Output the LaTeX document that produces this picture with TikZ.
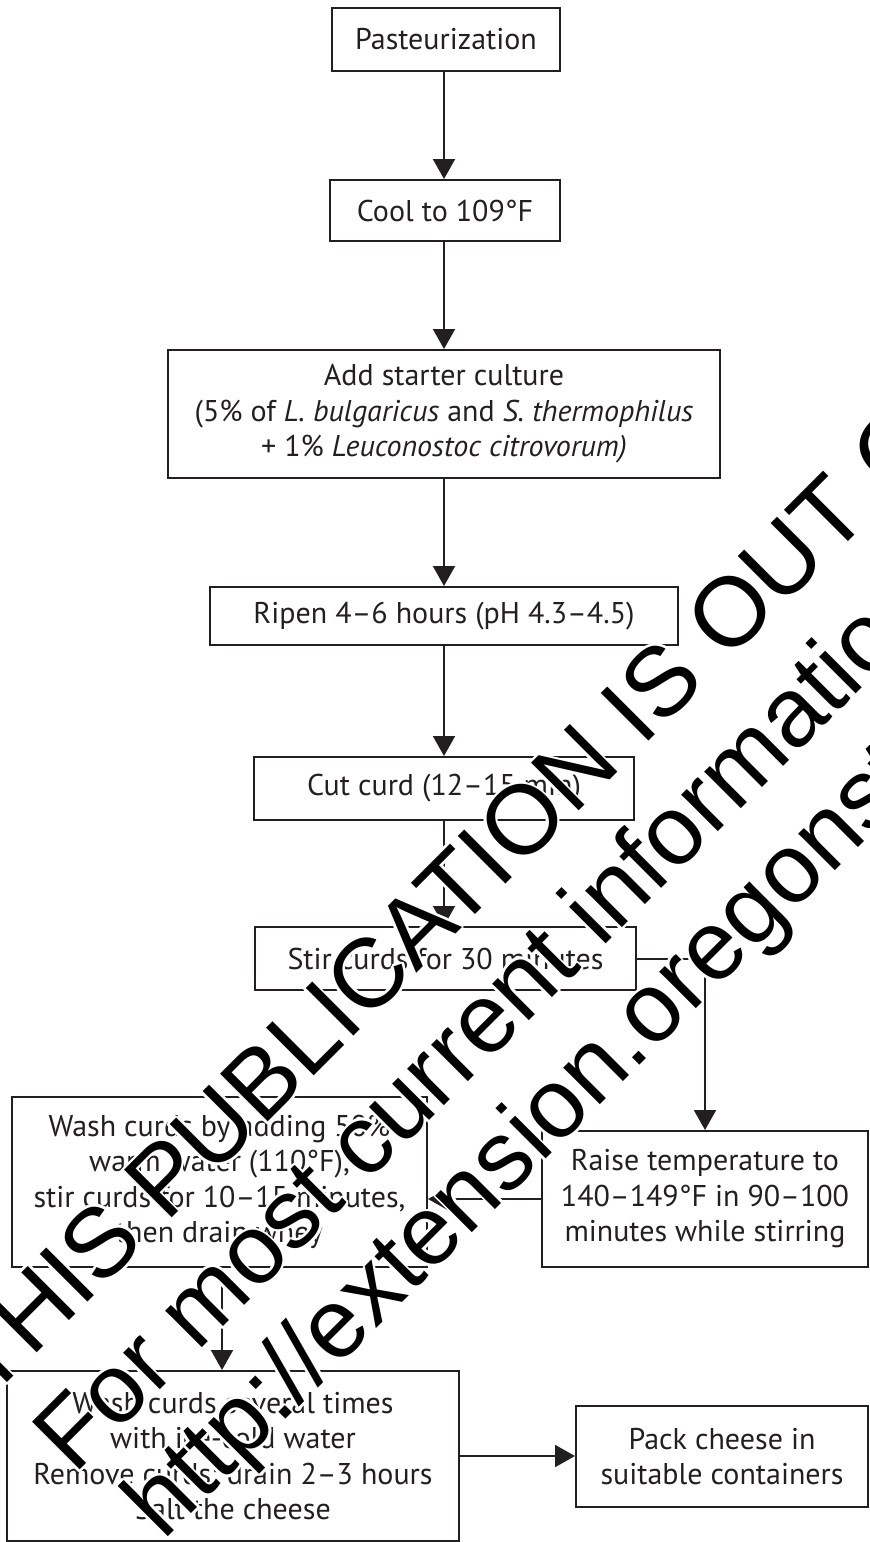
\documentclass[tikz,border=0pt]{standalone}
\usepackage{fontspec}
\setmainfont{PT Sans}
\newfontfamily\wmfont{Liberation Sans}
\usetikzlibrary{arrows.meta}
\definecolor{ink}{HTML}{231F20}
\tikzset{
  box/.style={draw=ink, line width=2pt, text=ink, align=center, inner sep=0pt,
    font=\fontsize{30}{35.5}\selectfont},
  flow/.style={draw=ink, line width=2pt, -{Triangle[length=20pt,width=22pt]}},
  wm/.style={font=\wmfont\fontsize{98}{98}\selectfont, inner sep=0pt, rotate=45, anchor=base, text=black},
  wmhalo/.style={wm, text=white},
}
\newcommand\wmline[3]{%
  \foreach \a [count=\k] in {0,30,...,330}{\node[wmhalo, shift={(\a:2.5pt)}] (#1h\k) at (#2) {#3};}
  \node[wm] (#1) at (#2) {#3};
}
\begin{document}
\begin{tikzpicture}[x=1pt,y=-1pt]
\useasboundingbox (0,0) rectangle (870,1542);
% boxes
\node[box, minimum width=228pt, minimum height=63pt] (past) at (446,39.5) {Pasteurization};
\node[box, minimum width=230pt, minimum height=61pt] (cool) at (445,210.5) {Cool to 109°F};
\node[box, minimum width=552pt, minimum height=128pt] (add) at (444,414)
  {Add starter culture\\(5\% of \textit{L. bulgaricus} and \textit{S. thermophilus}\\+ 1\% \textit{Leuconostoc citrovorum)}};
\node[box, minimum width=468pt, minimum height=58pt] (ripen) at (444,616) {Ripen 4–6 hours (pH 4.3–4.5)};
\node[box, minimum width=380pt, minimum height=63pt] (cut) at (444,788.5) {Cut curd (12–15 min)};
\node[box, minimum width=381pt, minimum height=63pt] (stir) at (445.5,958.5) {Stir curds for 30 minutes};
\node[box, minimum width=415pt, minimum height=170pt] (wash) at (219.5,1182)
  {Wash curds by adding 50\%\\warm water (110°F),\\stir curds for 10–15 minutes,\\then drain whey};
\node[box, minimum width=326pt, minimum height=136pt] (raise) at (705,1199)
  {Raise temperature to\\140–149°F in 90–100\\minutes while stirring};
\node[box, minimum width=452pt, minimum height=170pt] (wash2) at (233,1456)
  {Wash curds several times\\with ice-cold water\\Remove curds; drain 2–3 hours\\Salt the cheese};
\node[box, minimum width=292pt, minimum height=101pt] (pack) at (722,1456.5)
  {Pack cheese in\\suitable containers};
% connectors
\draw[flow] (past.south -| 444,0) -- (cool.north -| 444,0);
\draw[flow] (cool.south -| 444,0) -- (add.north -| 444,0);
\draw[flow] (add.south) -- (ripen.north);
\draw[flow] (ripen.south) -- (cut.north);
\draw[flow] (cut.south) -- (stir.north -| cut.south);
\draw[flow] (stir.east) -| (raise.north);
\draw[flow] (raise.west) -- (raise.west -| wash.east);
\draw[flow] (wash.south -| 222,0) -- (wash2.north -| 222,0);
\draw[flow] (wash2.east) -- (wash2.east -| pack.west);
% watermark
\wmline{wma}{598,792}{THIS PUBLICATION IS OUT OF DATE.}
\wmline{wmb}{519,1031}{For most current information:}
\wmline{wmc}{780,925}{http://extension.oregonstate.edu/catalog}
\end{tikzpicture}
\end{document}
